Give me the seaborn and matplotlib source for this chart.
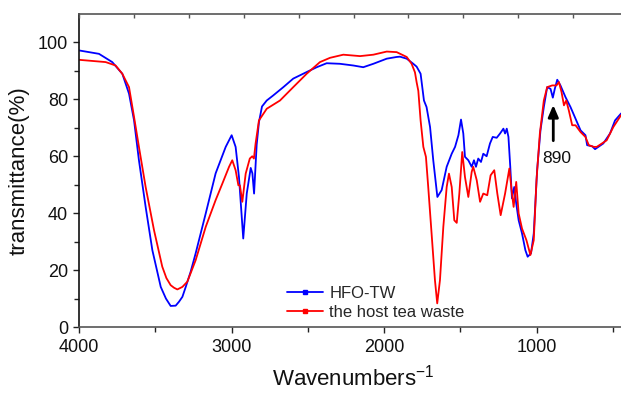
import numpy as np
import pandas as pd
import matplotlib
matplotlib.use("Agg")
import matplotlib.pyplot as plt
from matplotlib.lines import Line2D
import seaborn as sns

# ---- data ----
wn_hfo = [4000, 3869, 3782, 3716, 3672, 3639, 3607, 3563, 3519, 3464, 3430, 3399, 3366, 3344,
          3322, 3300, 3268, 3235, 3169, 3104, 3038, 2999, 2973, 2951, 2923, 2900, 2874, 2863,
          2852, 2835, 2820, 2800, 2769, 2726, 2660, 2595, 2507, 2441, 2376, 2289, 2201, 2136,
          2070, 1982, 1917, 1895, 1851, 1808, 1786, 1760, 1738, 1721, 1698, 1677, 1650, 1622,
          1589, 1556, 1534, 1512, 1495, 1480, 1469, 1447, 1425, 1410, 1397, 1382, 1364, 1349,
          1327, 1305, 1287, 1261, 1239, 1217, 1206, 1195, 1184, 1172, 1161, 1146, 1133, 1117,
          1095, 1073, 1058, 1036, 1018, 996, 974, 952, 930, 908, 893, 880, 864, 843, 810, 777,
          744, 711, 679, 668, 635, 616, 562, 518, 485, 446, 400]
t_hfo = [97.2, 96.0, 93.1, 89.0, 82.0, 72.6, 58.6, 42.2, 27.0, 14.1, 10.0, 7.4, 7.5, 8.9,
         10.6, 14.1, 19.4, 25.9, 39.9, 54.0, 63.3, 67.4, 63.3, 52.7, 31.1, 46.9, 55.9, 54.0,
         46.9, 64.0, 72.0, 77.5, 79.6, 81.4, 84.3, 87.3, 89.6, 91.3, 92.7, 92.5, 91.9, 91.3,
         92.5, 94.3, 94.9, 95.0, 94.3, 92.5, 91.5, 89.0, 79.6, 77.3, 70.3, 58.6, 45.7, 48.1,
         56.3, 60.9, 63.3, 67.4, 72.9, 68.0, 59.8, 58.6, 56.3, 58.6, 56.3, 59.2, 58.0, 60.9,
         60.0, 64.5, 66.8, 66.5, 68.0, 69.7, 68.0, 69.7, 66.8, 56.3, 45.2, 49.2, 43.4, 37.5,
         32.9, 27.0, 24.7, 25.9, 32.9, 55.1, 69.1, 77.3, 84.3, 83.7, 80.6, 83.7, 86.9, 84.9,
         80.8, 77.3, 73.2, 69.1, 67.4, 63.9, 63.5, 62.5, 64.5, 68.0, 72.6, 75.0, 76.5]

wn_tea = [4000, 3825, 3760, 3716, 3672, 3639, 3607, 3563, 3508, 3454, 3427, 3399, 3377, 3355,
          3322, 3290, 3268, 3235, 3169, 3104, 3060, 3016, 2995, 2973, 2955, 2945, 2929, 2907,
          2880, 2864, 2853, 2842, 2820, 2769, 2682, 2595, 2507, 2420, 2354, 2267, 2157, 2070,
          1982, 1917, 1851, 1819, 1797, 1786, 1775, 1760, 1742, 1725, 1710, 1688, 1666, 1651,
          1633, 1611, 1589, 1574, 1556, 1539, 1523, 1506, 1487, 1469, 1447, 1425, 1415, 1392,
          1370, 1349, 1323, 1301, 1277, 1257, 1235, 1206, 1178, 1161, 1150, 1133, 1117, 1095,
          1066, 1040, 1018, 1000, 978, 952, 930, 897, 869, 853, 836, 820, 805, 788, 766, 744,
          711, 679, 657, 624, 605, 540, 496, 446, 400]
t_tea = [93.9, 93.1, 91.9, 89.0, 84.3, 73.8, 63.3, 49.2, 34.0, 21.2, 17.2, 14.7, 13.8, 13.2,
         14.1, 15.9, 18.9, 23.5, 35.2, 44.6, 50.4, 56.3, 58.6, 55.1, 49.8, 49.8, 44.0, 53.9,
         59.2, 60.0, 59.2, 64.5, 72.6, 76.7, 79.6, 84.3, 89.0, 93.1, 94.6, 95.7, 95.2, 95.7,
         96.8, 96.6, 94.9, 92.5, 89.5, 86.0, 83.0, 72.6, 63.3, 59.8, 49.2, 32.9, 16.5, 8.3,
         16.5, 35.2, 49.2, 53.9, 49.2, 37.5, 36.6, 46.9, 61.5, 52.7, 45.7, 54.5, 56.3, 51.6,
         44.0, 46.9, 46.3, 53.3, 55.1, 46.9, 39.3, 46.9, 55.7, 46.9, 42.2, 51.0, 39.9, 34.6,
         30.5, 25.3, 30.5, 51.6, 68.0, 79.6, 84.3, 84.9, 84.9, 86.1, 82.6, 77.9, 79.6, 76.1,
         70.9, 70.9, 68.5, 66.8, 63.9, 63.3, 63.3, 65.6, 70.3, 74.4, 76.0]

series_names = ["HFO-TW", "the host tea waste"]
series_colors = ["#0000FF", "#FF0000"]
x_ticks = [4000, 3000, 2000, 1000]
y_ticks = [0, 20, 40, 60, 80, 100]
annot_wn = 890

df = pd.concat([
    pd.DataFrame({"wn": wn_hfo, "t": t_hfo, "sample": series_names[0]}),
    pd.DataFrame({"wn": wn_tea, "t": t_tea, "sample": series_names[1]}),
], ignore_index=True)

sns.set_style("ticks")
plt.rcParams["font.family"] = ["Liberation Sans", "DejaVu Sans"]

fig = plt.figure(figsize=(6.21, 3.93), dpi=100)
ax = fig.add_axes([79 / 621, 66 / 393, 549 / 621, 313 / 393])

sns.lineplot(data=df, x="wn", y="t", hue="sample", palette=dict(zip(series_names, series_colors)),
             sort=False, estimator=None, lw=1.3, ax=ax, legend=False)

ax.set_xlim(4000, 400)
ax.set_ylim(0, 110)
ax.set_xticks(x_ticks)
ax.set_xticklabels([str(v) for v in x_ticks])
ax.set_xticks(np.arange(3500, 400, -1000), minor=True)
ax.set_yticks(y_ticks)
ax.set_yticks(np.arange(10, 110, 20), minor=True)
ax.tick_params(axis="both", which="major", direction="out", length=4.5, width=1.0,
               labelsize=13, colors="#222222", labelcolor="#111111")
ax.tick_params(axis="both", which="minor", direction="out", length=3.5, width=1.0, colors="#222222")
ax.tick_params(axis="x", pad=4)

ax.spines["left"].set_color("#111111")
for s in ["top", "bottom"]:
    ax.spines[s].set_color("#555555")
for s in ax.spines.values():
    s.set_linewidth(1.2)
ax.spines["right"].set_visible(False)

ax.set_xlabel("Wavenumbers$^{\\mathregular{-1}}$", fontsize=16, color="#111111", labelpad=6)
ax.set_ylabel("transmittance(%)", fontsize=16, color="#111111", labelpad=6)

# top ticks (10 equal divisions)
axt = ax.twiny()
axt.set_xlim(0, 10)
axt.set_xticks(range(0, 11))
axt.tick_params(axis="x", direction="in", length=3, width=1.0, labeltop=False, colors="#555555")
for s in axt.spines.values():
    s.set_visible(False)

# annotation arrow at 890
ax.annotate("", xy=(annot_wn, 79.0), xytext=(annot_wn, 64.5),
            arrowprops=dict(arrowstyle="-|>,head_width=0.3,head_length=0.7", color="black", lw=2.0))
ax.text(870, 59.3, "890", fontsize=12.5, ha="center", va="center", color="#111111")

handles = [Line2D([0], [0], color=c, lw=1.3, marker="s", markersize=2.5) for c in series_colors]
ax.legend(handles, series_names, loc="lower left", bbox_to_anchor=(0.36, -0.01), frameon=False,
          fontsize=12, handlelength=2.2, handletextpad=0.35, labelspacing=0.25, borderaxespad=0.2)

fig.savefig("out.png", dpi=100)
